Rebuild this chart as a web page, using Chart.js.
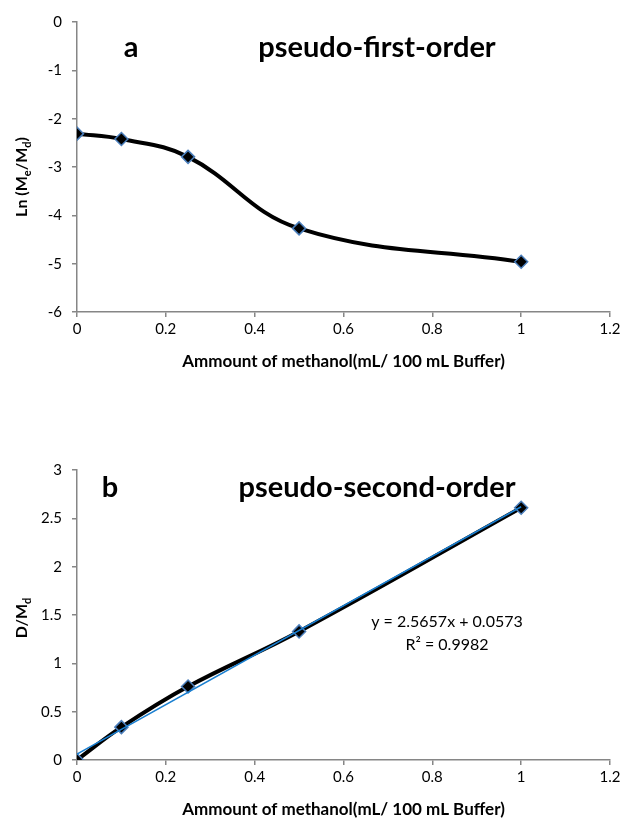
<!DOCTYPE html>
<html>
<head>
<meta charset="utf-8">
<script src="https://cdn.jsdelivr.net/npm/chart.js@4.4.0/dist/chart.umd.min.js"></script>
<style>
    body { margin: 0; background: #fff; width: 630px; height: 819px; position: relative; overflow: hidden; }
    .box { position: absolute; left: 0; width: 630px; height: 372px; }
    #boxA { top: 0; }
    #boxB { top: 448px; }
</style>
</head>
<body>
<div class="box" id="boxA"><canvas id="chartA"></canvas></div>
<div class="box" id="boxB"><canvas id="chartB"></canvas></div>
<script>
// data
const methanol = [0, 0.1, 0.25, 0.5, 1];
const lnMeMd = [-2.31, -2.42, -2.79, -4.27, -4.96];
const dMd = [0, 0.34, 0.76, 1.33, 2.61];
const trendX = [0, 1];
const trendY = [0.06, 2.62];
const xTicks = [0, 0.2, 0.4, 0.6, 0.8, 1, 1.2];

const FONT = 'Lato, "Open Sans", sans-serif';
const AXIS_GREY = '#868686';
const MARKER_BLUE = '#4a7ebb';

function toPoints(xs, ys) {
    return xs.map((x, i) => ({ x: x, y: ys[i] }));
}

// draws a line of text with subscript parts, optionally rotated
function drawRich(ctx, parts, x, y, size, rotate) {
    ctx.save();
    ctx.translate(x, y);
    if (rotate) ctx.rotate(-Math.PI / 2);
    const main = 'bold ' + size + 'px ' + FONT;
    const small = 'bold ' + Math.round(size * 0.68) + 'px ' + FONT;
    let total = 0;
    parts.forEach(p => {
        ctx.font = p.sub ? small : main;
        total += ctx.measureText(p.t).width;
    });
    let cx = -total / 2;
    ctx.fillStyle = '#000';
    ctx.textBaseline = 'middle';
    ctx.textAlign = 'left';
    parts.forEach(p => {
        ctx.font = p.sub ? small : main;
        ctx.fillText(p.t, cx, p.sub ? size * 0.32 : 0);
        cx += ctx.measureText(p.t).width;
    });
    ctx.restore();
}

const textPlugin = {
    id: 'textMarks',
    afterDraw(chart, args, opts) {
        const ctx = chart.ctx;
        (opts.items || []).forEach(it => {
            ctx.save();
            ctx.font = it.font;
            ctx.fillStyle = '#000';
            ctx.textAlign = 'center';
            ctx.textBaseline = 'middle';
            ctx.fillText(it.text, it.x, it.y);
            ctx.restore();
        });
        if (opts.yTitle) {
            drawRich(ctx, opts.yTitle, 22, opts.yTitleY, 16, true);
        }
    }
};

const fmt = v => String(+v.toFixed(2));

function makeScales(yMin, yMax, yStep) {
    return {
        x: {
            type: 'linear',
            min: 0,
            max: 1.2,
            afterBuildTicks: (scale) => { scale.ticks = xTicks.map(v => ({ value: v })); },
            afterFit: (scale) => { scale.height = 60; },
            grid: { drawOnChartArea: false, color: AXIS_GREY, tickLength: 5, lineWidth: 1.5 },
            border: { color: AXIS_GREY, width: 1.5 },
            ticks: { color: '#000', font: { family: FONT, size: 15 }, padding: 3, callback: fmt },
            title: {
                display: true,
                text: 'Ammount of methanol(mL/ 100 mL Buffer)',
                color: '#000',
                font: { family: FONT, size: 17, weight: 'bold' },
                padding: { top: 0, bottom: 0 }
            }
        },
        y: {
            min: yMin,
            max: yMax,
            afterFit: (scale) => { scale.width = 77; },
            grid: { drawOnChartArea: false, color: AXIS_GREY, tickLength: 5, lineWidth: 1.5 },
            border: { color: AXIS_GREY, width: 1.5 },
            ticks: { stepSize: yStep, color: '#000', font: { family: FONT, size: 15 }, padding: 10, callback: fmt }
        }
    };
}

const seriesStyle = {
    borderColor: '#000',
    borderWidth: 4,
    tension: 0.4,
    pointStyle: 'rectRot',
    pointRadius: 6.5,
    pointBackgroundColor: '#000',
    pointBorderColor: MARKER_BLUE,
    pointBorderWidth: 1.5,
    fill: false
};

new Chart(document.getElementById('chartA'), {
    type: 'line',
    data: {
        datasets: [
            Object.assign({ label: 'Ln(Me/Md)', data: toPoints(methanol, lnMeMd) }, seriesStyle)
        ]
    },
    options: {
        responsive: true,
        maintainAspectRatio: false,
        animation: false,
        layout: { padding: { top: 22, right: 20, left: 0, bottom: 0 } },
        plugins: {
            legend: { display: false },
            tooltip: { enabled: false },
            textMarks: {
                items: [
                    { text: 'a', x: 131, y: 48, font: 'bold 29px ' + FONT },
                    { text: 'pseudo-first-order', x: 377, y: 48, font: 'bold 29px ' + FONT }
                ],
                yTitle: [{ t: 'Ln (M' }, { t: 'e', sub: true }, { t: '/M' }, { t: 'd', sub: true }, { t: ')' }],
                yTitleY: 177
            }
        },
        scales: makeScales(-6, 0, 1)
    },
    plugins: [textPlugin]
});

new Chart(document.getElementById('chartB'), {
    type: 'line',
    data: {
        datasets: [
            {
                label: 'Linear trend',
                data: toPoints(trendX, trendY),
                borderColor: '#1a7fd0',
                borderWidth: 1.5,
                pointRadius: 0,
                tension: 0,
                fill: false,
                order: 0
            },
            Object.assign({ label: 'D/Md', data: toPoints(methanol, dMd), order: 1 }, seriesStyle)
        ]
    },
    options: {
        responsive: true,
        maintainAspectRatio: false,
        animation: false,
        layout: { padding: { top: 22, right: 20, left: 0, bottom: 0 } },
        plugins: {
            legend: { display: false },
            tooltip: { enabled: false },
            textMarks: {
                items: [
                    { text: 'b', x: 110, y: 40, font: 'bold 29px ' + FONT },
                    { text: 'pseudo-second-order', x: 377, y: 40, font: 'bold 29px ' + FONT },
                    { text: 'y = 2.5657x + 0.0573', x: 447, y: 174, font: '16px ' + FONT },
                    { text: 'R\u00b2 = 0.9982', x: 447, y: 197, font: '16px ' + FONT }
                ],
                yTitle: [{ t: 'D/M' }, { t: 'd', sub: true }],
                yTitleY: 170
            }
        },
        scales: makeScales(0, 3, 0.5)
    },
    plugins: [textPlugin]
});
</script>
</body>
</html>
